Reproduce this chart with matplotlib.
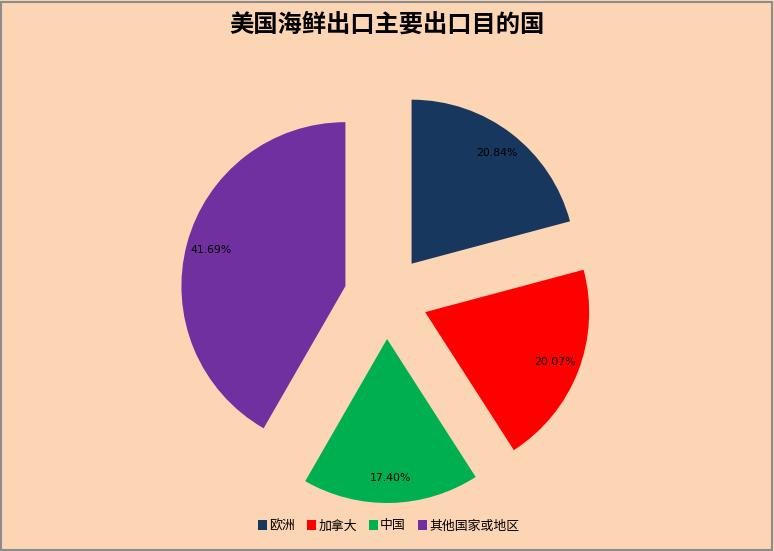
import matplotlib.pyplot as plt
from matplotlib.patches import Rectangle

plt.rcParams['font.family'] = ['Noto Sans CJK SC', 'DejaVu Sans']

regions = ['欧洲', '加拿大', '中国', '其他国家或地区']
shares = [20.84, 20.07, 17.40, 41.69]
colors = ['#17375E', '#FF0000', '#00B050', '#7030A0']
title = '美国海鲜出口主要出口目的国'

bg = '#FCD5B4'
fig = plt.figure(figsize=(7.74, 5.51), dpi=100, facecolor=bg)
ax = fig.add_axes([0, 0, 1, 1])
ax.set_facecolor(bg)

# pie in pixel units so explode is an absolute offset
wedges, texts, autotexts = ax.pie(
    shares, colors=colors, startangle=90, counterclock=False,
    radius=164, center=(386, 254), explode=[42] * 4,
    autopct='%.2f%%', pctdistance=0.85,
    textprops={'fontsize': 7.8, 'color': 'black', 'family': 'DejaVu Sans'},
    wedgeprops={'linewidth': 0})
ax.set_xlim(0, 774)
ax.set_ylim(0, 551)
ax.set_aspect('equal')
ax.axis('off')

fig.text(0.5, 1 - 25 / 551, title, ha='center', va='center',
         fontsize=17.5, fontweight='bold')

fig.legend(wedges, regions, loc='center', bbox_to_anchor=(0.502, 1 - 526 / 551),
           ncol=4, frameon=False, fontsize=9.3, handlelength=0.7,
           handleheight=0.7, handletextpad=0.2, columnspacing=0.9)

fig.patches.append(Rectangle((0.001, 0.001), 0.997, 0.996, transform=fig.transFigure,
                             fill=False, edgecolor='#8C8C8C', linewidth=1.5))

plt.savefig('out.png', dpi=100, facecolor=bg)
